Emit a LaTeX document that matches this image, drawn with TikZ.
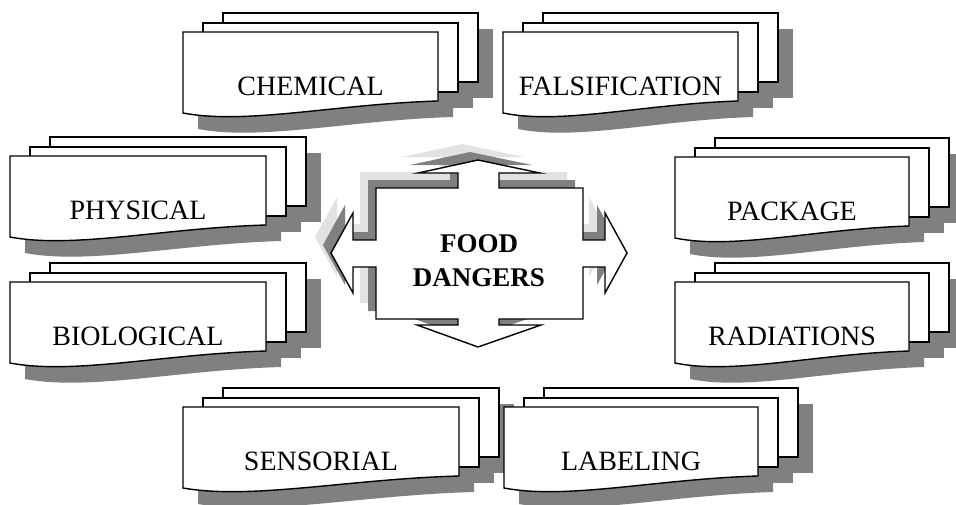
\documentclass[tikz,border=0pt]{standalone}
\usepackage{fontspec}
\setmainfont{Liberation Serif}
\usepackage{tikz}
\definecolor{shadowgray}{HTML}{808080}
\definecolor{paleshadow}{HTML}{E2E2E2}
\tikzset{
  sheet/.style={draw=black, line width=1.4pt, fill=white},
  sheetshadow/.style={fill=shadowgray, draw=none},
  lightshade/.style={fill=paleshadow, draw=none},
  doclabel/.style={font=\fontsize{28}{30}\selectfont, anchor=base, inner sep=0pt},
  corelabel/.style={font=\bfseries\fontsize{27}{34}\selectfont, align=center}
}

\begin{document}
\begin{tikzpicture}[x=1pt,y=-1pt]
    \useasboundingbox (0,0) rectangle (956,504);
    % stacks of sheets: left, top, width, name, text
    \foreach \x/\y/\w/\nm/\txt in {183/32/255/chem/CHEMICAL, 503/32/235/fals/FALSIFICATION,
        10/156/256/phys/PHYSICAL, 675/157/234/pack/PACKAGE,
        10/282/256/bio/BIOLOGICAL, 675/282/234/rad/RADIATIONS,
        183/407/276/sens/SENSORIAL, 504/407/254/lab/LABELING}{%
      \foreach \d/\st in {15/sheetshadow, 0/sheet}{% shadow first, then the sheets
        \begin{scope}[shift={({\x+\d},{\y+\d+\d/15})}]
          \draw[\st] (40,-19) rectangle ++(\w,69);
          \draw[\st] (20,-9) rectangle ++(\w,69);
          \draw[\st] (0,0) -- (\w,0) -- (\w,69)
              .. controls ({0.6*\w},72) and ({0.25*\w},93) .. (0,81) -- cycle;
        \end{scope}}
      \node[doclabel] (\nm) at ({\x+\w/2},{\y+63}) {\txt};
    }
    % four-way arrow in the middle with two shadows
    \foreach \d/\st in {-16/lightshade, -8/sheetshadow, 0/sheet}{%
      \path[\st, shift={(\d,\d)}] (478,160) -- (540,173) -- (499,173) -- (499,188)
          -- (583,188) -- (583,240) -- (605,240) -- (605,213) -- (627,253)
          -- (605,293) -- (605,267) -- (583,267) -- (583,319) -- (499,319)
          -- (499,325) -- (541,325) -- (478,347) -- (417,325) -- (458,325)
          -- (458,319) -- (376,319) -- (376,267) -- (353,267) -- (353,293)
          -- (331,253) -- (353,213) -- (353,240) -- (376,240) -- (376,188)
          -- (458,188) -- (458,173) -- (418,173) -- cycle;}
    \node[corelabel] (core) at (479,261) {FOOD\\DANGERS};
\end{tikzpicture}
\end{document}
